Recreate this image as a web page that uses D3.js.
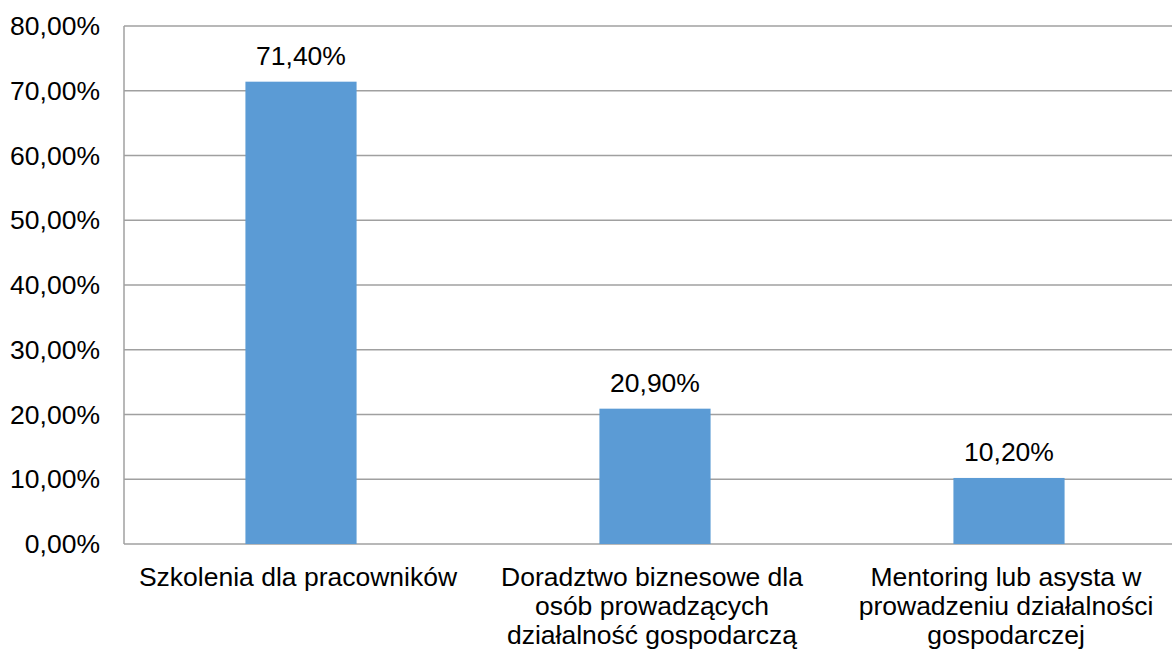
<!DOCTYPE html>
<html>
<head>
<meta charset="utf-8">
<script src="https://cdn.jsdelivr.net/npm/d3@7"></script>
<style>
  body { margin: 0; background: #fff; }
  text { font-family: "Liberation Sans", Arial, sans-serif; fill: #000; }
</style>
</head>
<body>
<div id="chart"></div>
<script>
const categories = [
    "Szkolenia dla pracowników",
    "Doradztwo biznesowe dla osób prowadzących działalność gospodarczą",
    "Mentoring lub asysta w prowadzeniu działalności gospodarczej"
];
const values = [71.4, 20.9, 10.2];
const yTicks = [0, 10, 20, 30, 40, 50, 60, 70, 80];

const width = 1172;
const height = 650;
const fontSize = 26.5;
const margin = { left: 124, right: -14, top: 26, bottom: 106 };

const svg = d3.select('#chart')
    .append('svg')
        .attr('width', width)
        .attr('height', height);

const fmt = v => d3.format('.2f')(v).replace('.', ',') + '%';

const x = d3.scaleBand()
    .domain(categories)
    .range([margin.left, width - margin.right])
    .paddingInner(0.686)
    .paddingOuter(0.343);

const y = d3.scaleLinear()
    .domain([0, 80])
    .range([height - margin.bottom, margin.top]);

// gridlines
svg.append('g')
    .selectAll('line')
    .data(yTicks)
    .join('line')
        .attr('x1', margin.left)
        .attr('x2', width - margin.right)
        .attr('y1', d => y(d))
        .attr('y2', d => y(d))
        .attr('stroke', '#a0a0a0')
        .attr('stroke-width', 1.5);

// left axis line
svg.append('line')
    .attr('x1', margin.left)
    .attr('x2', margin.left)
    .attr('y1', y(80))
    .attr('y2', y(0))
    .attr('stroke', '#a0a0a0')
    .attr('stroke-width', 1.5);

// y tick labels
svg.append('g')
    .selectAll('text')
    .data(yTicks)
    .join('text')
        .attr('x', margin.left - 24)
        .attr('y', d => y(d))
        .attr('dy', '0.34em')
        .attr('text-anchor', 'end')
        .attr('font-size', fontSize)
        .text(d => fmt(d));

// bars
svg.append('g')
    .selectAll('rect')
    .data(values)
    .join('rect')
        .attr('x', (d, i) => x(categories[i]))
        .attr('y', d => y(d))
        .attr('width', x.bandwidth())
        .attr('height', d => y(0) - y(d))
        .attr('fill', '#5b9bd5');

// bar value labels
svg.append('g')
    .selectAll('text')
    .data(values)
    .join('text')
        .attr('x', (d, i) => x(categories[i]) + x.bandwidth() / 2)
        .attr('y', d => y(d) - 17)
        .attr('text-anchor', 'middle')
        .attr('font-size', fontSize)
        .text(d => fmt(d));

// category labels, wrapped
const maxLine = 345;
const lineHeight = 29;
const catLabels = svg.append('g')
    .selectAll('text')
    .data(categories)
    .join('text')
        .attr('x', d => x(d) + x.bandwidth() / 2 - 3)
        .attr('y', y(0) + 42)
        .attr('text-anchor', 'middle')
        .attr('font-size', fontSize);

catLabels.each(function(d) {
    const t = d3.select(this);
    const words = d.split(' ');
    const cx = t.attr('x');
    let line = [];
    let tspan = t.append('tspan').attr('x', cx).attr('dy', 0);
    words.forEach(w => {
        line.push(w);
        tspan.text(line.join(' '));
        if (tspan.node().getComputedTextLength() > maxLine && line.length > 1) {
            line.pop();
            tspan.text(line.join(' '));
            line = [w];
            tspan = t.append('tspan').attr('x', cx).attr('dy', lineHeight).text(w);
        }
    });
});
</script>
</body>
</html>
